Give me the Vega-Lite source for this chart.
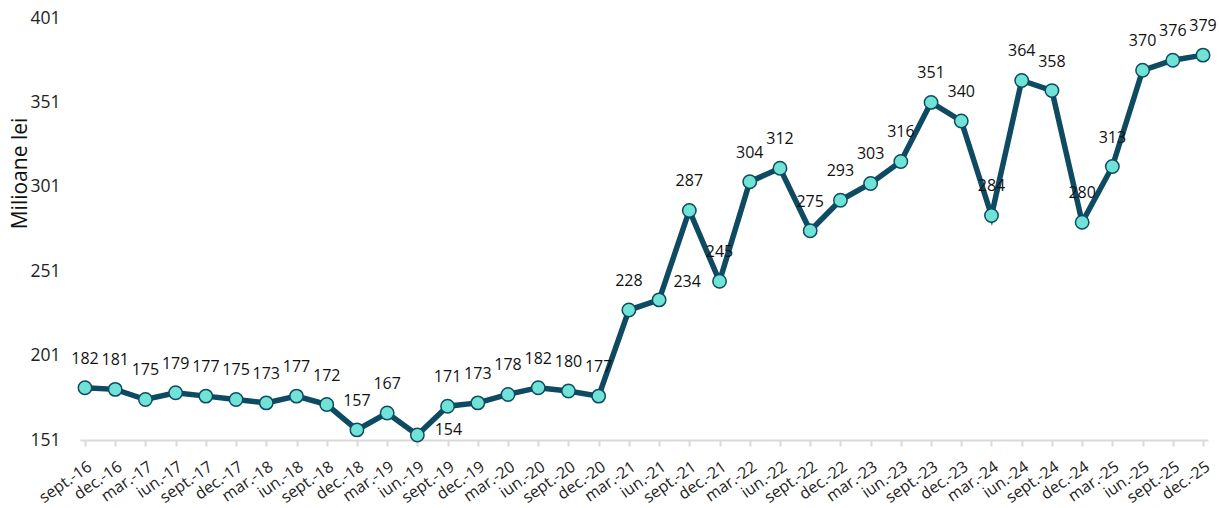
{
  "$schema": "https://vega.github.io/schema/vega-lite/v6.json",
  "width": 1128,
  "height": 422,
  "autosize": {"type": "none"},
  "padding": {"left": 80, "top": 18, "right": 11, "bottom": 68},
  "background": "white",
  "config": {"view": {"stroke": null}, "font": "Open Sans"},
  "data": {"values": [
    {"period": "sept.-16", "value": 182},
    {"period": "dec.-16", "value": 181},
    {"period": "mar.-17", "value": 175},
    {"period": "iun.-17", "value": 179},
    {"period": "sept.-17", "value": 177},
    {"period": "dec.-17", "value": 175},
    {"period": "mar.-18", "value": 173},
    {"period": "iun.-18", "value": 177},
    {"period": "sept.-18", "value": 172},
    {"period": "dec.-18", "value": 157},
    {"period": "mar.-19", "value": 167},
    {"period": "iun.-19", "value": 154},
    {"period": "sept.-19", "value": 171},
    {"period": "dec.-19", "value": 173},
    {"period": "mar.-20", "value": 178},
    {"period": "iun.-20", "value": 182},
    {"period": "sept.-20", "value": 180},
    {"period": "dec.-20", "value": 177},
    {"period": "mar.-21", "value": 228},
    {"period": "iun.-21", "value": 234},
    {"period": "sept.-21", "value": 287},
    {"period": "dec.-21", "value": 245},
    {"period": "mar.-22", "value": 304},
    {"period": "iun.-22", "value": 312},
    {"period": "sept.-22", "value": 275},
    {"period": "dec.-22", "value": 293},
    {"period": "mar.-23", "value": 303},
    {"period": "iun.-23", "value": 316},
    {"period": "sept.-23", "value": 351},
    {"period": "dec.-23", "value": 340},
    {"period": "mar.-24", "value": 284},
    {"period": "iun.-24", "value": 364},
    {"period": "sept.-24", "value": 358},
    {"period": "dec.-24", "value": 280},
    {"period": "mar.-25", "value": 313},
    {"period": "iun.-25", "value": 370},
    {"period": "sept.-25", "value": 376},
    {"period": "dec.-25", "value": 379}
  ]},
  "encoding": {
    "x": {
      "field": "period", "type": "ordinal", "sort": null,
      "scale": {"type": "point", "padding": 0.165},
      "axis": {
        "title": null, "labelAngle": -35, "labelAlign": "right", "labelBaseline": "top",
        "labelFontSize": 16, "labelColor": "#222222", "labelPadding": 12,
        "domainColor": "#D9D9D9", "domainWidth": 2, "tickColor": "#D9D9D9", "tickWidth": 2, "tickSize": 6,
        "grid": false
      }
    },
    "y": {
      "field": "value", "type": "quantitative",
      "scale": {"domain": [151, 401], "nice": false, "zero": false},
      "axis": {
        "title": "Milioane lei", "titleFontSize": 21, "titleFontWeight": "normal", "titleColor": "#111111",
        "titleY": 155, "titleX": -60, "titleAngle": -90, "titleAlign": "center", "titleBaseline": "middle",
        "values": [151, 201, 251, 301, 351, 401],
        "labelFontSize": 17.5, "labelColor": "#222222", "labelPadding": 20,
        "domain": false, "ticks": false, "grid": false
      }
    }
  },
  "layer": [
    {"mark": {"type": "line", "color": "#0E4B62", "strokeWidth": 5.5}},
    {"mark": {"type": "point", "filled": true, "fill": "#70E3D6", "stroke": "#0E4B62", "strokeWidth": 1.5, "size": 180, "opacity": 1}},
    {
      "transform": [{"filter": "datum.period !== 'iun.-19' && datum.period !== 'iun.-21'"}],
      "mark": {"type": "text", "fontSize": 16, "color": "#111111", "dy": -29, "baseline": "middle"},
      "encoding": {"text": {"field": "value", "type": "quantitative"}}
    },
    {
      "transform": [{"filter": "datum.period === 'iun.-19'"}],
      "mark": {"type": "text", "fontSize": 16, "color": "#111111", "dx": 31, "dy": -5, "baseline": "middle"},
      "encoding": {"text": {"field": "value", "type": "quantitative"}}
    },
    {
      "transform": [{"filter": "datum.period === 'iun.-21'"}],
      "mark": {"type": "text", "fontSize": 16, "color": "#111111", "dx": 28, "dy": -18, "baseline": "middle"},
      "encoding": {"text": {"field": "value", "type": "quantitative"}}
    }
  ]
}
